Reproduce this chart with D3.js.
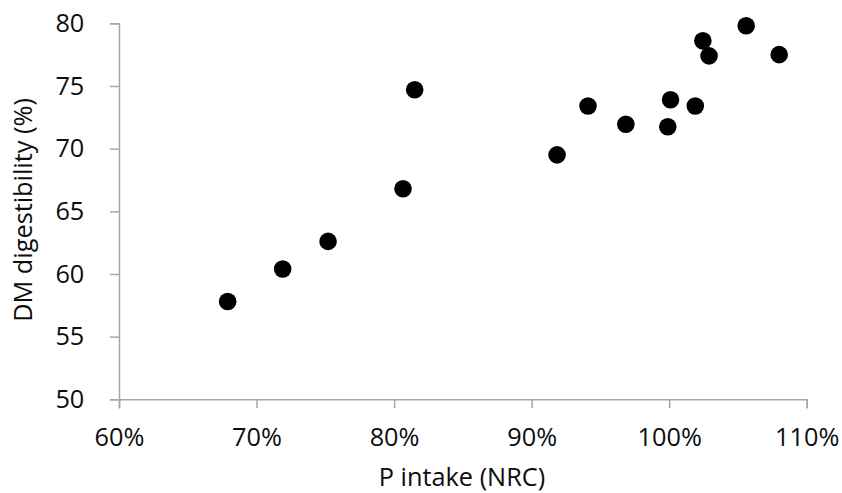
<!DOCTYPE html>
<html><head><meta charset="utf-8">
<script src="https://cdn.jsdelivr.net/npm/d3@7"></script>
<style>body{margin:0;background:#fff}svg{display:block}</style>
</head><body>
<script>
const pIntake = [67.9, 71.9, 75.2, 80.65, 81.5, 91.85, 94.1, 96.85, 99.9, 100.1, 101.9, 102.45, 102.9, 105.6, 108.0];
const dmDigestibility = [57.8, 60.4, 62.6, 66.8, 74.7, 69.5, 73.4, 71.95, 71.75, 73.9, 73.4, 78.6, 77.4, 79.8, 77.5];
const xTicks = [60, 70, 80, 90, 100, 110];
const yTicks = [50, 55, 60, 65, 70, 75, 80];
const xTitle = "P intake (NRC)";
const yTitle = "DM digestibility (%)";

const W = 842, H = 493;
const svg = d3.select("body").append("svg").attr("width", W).attr("height", H);
const x = d3.scaleLinear().domain([60, 110]).range([119, 806.7]);
const y = d3.scaleLinear().domain([50, 80]).range([399.3, 23.3]);
const font = "'Open Sans', sans-serif";
const axisColor = "#a6a6a6";
const textColor = "#0d0d0d";
const fs = "25.3px";

const gx = svg.append("g").attr("transform", `translate(0,${y(50)})`)
  .call(d3.axisBottom(x).tickValues(xTicks).tickSize(9).tickPadding(19.5).tickFormat(d => d + "%"));
const gy = svg.append("g").attr("transform", `translate(${x(60)},0)`)
  .call(d3.axisLeft(y).tickValues(yTicks).tickSize(9).tickPadding(25.7));
[gx, gy].forEach(g => {
  g.select(".domain").attr("stroke", axisColor).attr("stroke-width", 1.5);
  g.selectAll(".tick line").attr("stroke", axisColor).attr("stroke-width", 1.5);
  g.selectAll(".tick text").attr("fill", textColor).style("font-family", font).style("font-size", fs);
});

svg.append("g").selectAll("circle").data(pIntake).join("circle")
  .attr("cx", d => x(d)).attr("cy", (d, i) => y(dmDigestibility[i])).attr("r", 8.8).attr("fill", "#000");

svg.append("text").attr("x", 462).attr("y", 486).attr("text-anchor", "middle")
  .style("font-family", font).style("font-size", fs).attr("fill", textColor).text(xTitle);
svg.append("text").attr("transform", "translate(32,210) rotate(-90)").attr("text-anchor", "middle")
  .style("font-family", font).style("font-size", fs).attr("fill", textColor).text(yTitle);
</script>
</body></html>
